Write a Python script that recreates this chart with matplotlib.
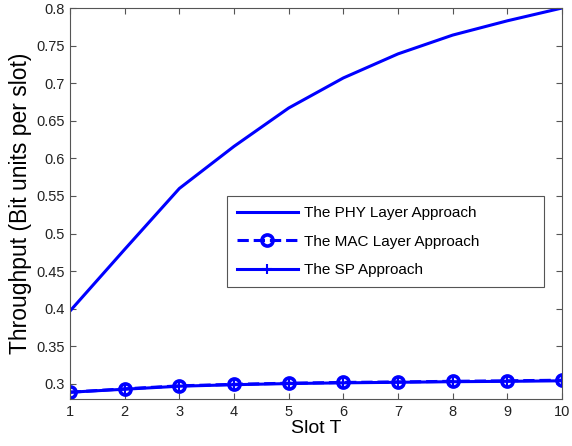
import matplotlib
matplotlib.use("Agg")
import matplotlib.pyplot as plt

slots = [1, 2, 3, 4, 5, 6, 7, 8, 9, 10]
phy = [0.397, 0.479, 0.560, 0.616, 0.667, 0.707, 0.739, 0.764, 0.783, 0.800]
mac = [0.289, 0.2935, 0.2975, 0.2995, 0.301, 0.302, 0.3027, 0.3035, 0.3042, 0.305]
sp = [0.289, 0.293, 0.297, 0.299, 0.3005, 0.3015, 0.3022, 0.303, 0.3035, 0.3042]
labels = ["The PHY Layer Approach", "The MAC Layer Approach", "The SP Approach"]

plt.rcParams['font.family'] = ['Liberation Sans', 'DejaVu Sans']
fig = plt.figure(figsize=(5.72, 4.46), dpi=100)
ax = fig.add_axes([0.1224, 0.1054, 0.8601, 0.8766])

blue = '#0000ff'
ax.plot(slots, phy, '-', color=blue, lw=2.2, label=labels[0])
ax.plot(slots, mac, '--', color=blue, lw=2.2, marker='o', ms=8, mfc='none',
        mec=blue, mew=2.6, label=labels[1])
ax.plot(slots, sp, '-', color=blue, lw=2.2, marker='+', ms=7, mew=1.5, label=labels[2])

ax.set_xlim(1, 10)
ax.set_ylim(0.28, 0.8)
ax.set_xticks(slots)
ax.set_yticks([0.3, 0.35, 0.4, 0.45, 0.5, 0.55, 0.6, 0.65, 0.7, 0.75, 0.8])
ax.set_yticklabels(['0.3', '0.35', '0.4', '0.45', '0.5', '0.55', '0.6', '0.65', '0.7', '0.75', '0.8'])
ax.tick_params(direction='in', top=True, right=True, labelsize=10.5, length=4,
               color='#555555', labelcolor='#222222', pad=4)
for s in ax.spines.values():
    s.set_color('#555555')
    s.set_linewidth(0.8)
ax.set_xlabel('Slot T', fontsize=14, labelpad=1)
ax.set_ylabel('Throughput (Bit units per slot)', fontsize=16.5, labelpad=3)

leg = ax.legend(loc='upper left', bbox_to_anchor=(0.319, 0.519, 0.644, 0),
                mode='expand', fontsize=11, fancybox=False, framealpha=1,
                edgecolor='#555555', borderaxespad=0, handlelength=4.0,
                handletextpad=0.4, labelspacing=0.95, borderpad=0.65)
leg.get_frame().set_linewidth(0.8)

fig.savefig('out.png', dpi=100)
